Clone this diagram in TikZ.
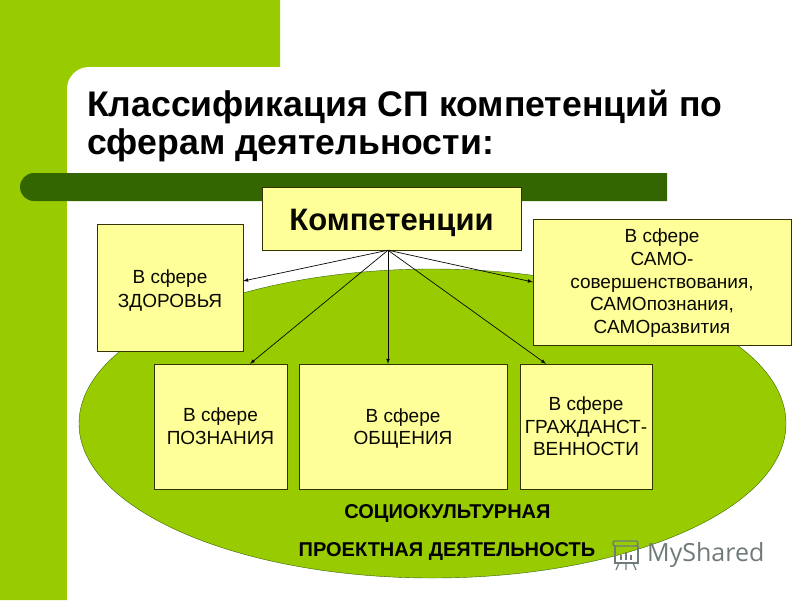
\documentclass[tikz,border=0pt]{standalone}
\usepackage{fontspec}
\setmainfont{Liberation Sans}
\newfontfamily\wmfont{Open Sans}
\definecolor{lgreen}{HTML}{99CC00}
\definecolor{dgreen}{HTML}{336600}
\definecolor{lyellow}{HTML}{FFFF99}
\definecolor{dline}{HTML}{333300}
\definecolor{wmgray}{HTML}{6F7A7A}
\newcommand{\toprule}[1]{\rule{0pt}{#1}}
\begin{document}
\begin{tikzpicture}[x=1pt,y=-1pt]
	\begin{scope}[scale=1]

	\tikzstyle{sferabox}=[rectangle,
	draw=dline,
	fill=lyellow,
	text=black!85!dline,
	inner sep=0pt,
	align=center,
	font=\fontsize{19}{22.6}\selectfont
	]
	\tikzstyle{boldtext}=[inner sep=0pt,
	text=black,
	align=center,
	font=\bfseries\fontsize{20}{24}\selectfont
	]
	\tikzstyle{myarrow}=[-latex,draw=black!85!dline,line width=0.7pt]

	\useasboundingbox (0,0) rectangle (800,600);

	% background
	\fill[white] (0,0) rectangle (800,600);
	\fill[lgreen] (0,0) rectangle (280,67) (0,67) rectangle (89,89) (0,89) rectangle (67,600);
	\fill[white] (67,600) -- (67,89) arc[start angle=180,end angle=270,radius=22] -- (280,67) -- (800,67) -- (800,600) -- cycle;
	\fill[dgreen] (667,173) -- (34,173) arc[start angle=270,end angle=90,radius=14] -- (667,201) -- cycle;

	% title
	\node[anchor=north west,inner sep=0pt,align=left,font=\bfseries\fontsize{35.6}{38}\selectfont] (title) at (87,90) {Классификация СП компетенций по\\сферам деятельности:};

	\draw[draw=dgreen,fill=lgreen] (432.5,423.5) ellipse [x radius=353.5,y radius=154.5];

	\coordinate (pkomp) at (391.5,218.5);
	\coordinate (pzdor) at (170,287.5);
	\coordinate (psamo) at (662,282);
	\coordinate (ppozn) at (220.5,426.5);
	\coordinate (pobsh) at (403,426.5);
	\coordinate (pgrazh) at (586,426.5);

	\node[sferabox,minimum width=259pt,minimum height=63pt,font=\bfseries\fontsize{31}{36}\selectfont] (komp) at (pkomp) {\toprule{31pt}Компетенции};
	\node[sferabox,minimum width=146pt,minimum height=127pt] (zdor) at (pzdor) {\toprule{20pt}В сфере\\[1.4pt]ЗДОРОВЬЯ};
	\node[sferabox,minimum width=258pt,minimum height=126pt] (samo) at (psamo) {\toprule{16pt}В сфере\\САМО-\\совершенствования,\\САМОпознания,\\САМОразвития};
	\node[sferabox,minimum width=133pt,minimum height=125pt] (pozn) at (ppozn) {В сфере\\ПОЗНАНИЯ};
	\node[sferabox,minimum width=208pt,minimum height=125pt] (obsh) at (pobsh) {\toprule{18pt}В сфере\\ОБЩЕНИЯ};
	\node[sferabox,minimum width=132pt,minimum height=125pt] (grazh) at (pgrazh) {В сфере\\ГРАЖДАНСТ-\\ВЕННОСТИ};

	\coordinate (hub) at ([xshift=-3.5pt]komp.south);

	\draw[myarrow] (hub) -- ([yshift=6.5pt]zdor.east);
	\draw[myarrow] (hub) -- (samo.west);
	\draw[myarrow] (hub) -- ([xshift=29.5pt]pozn.north);
	\draw[myarrow] (hub) -- ([xshift=-15pt]obsh.north);
	\draw[myarrow] (hub) -- ([xshift=-40pt]grazh.north);

	\node[boldtext] (socio) at (447.5,514) {СОЦИОКУЛЬТУРНАЯ};
	\node[boldtext] (proekt) at (447,551) {ПРОЕКТНАЯ ДЕЯТЕЛЬНОСТЬ};

	% watermark
	\draw[wmgray,line width=1.4pt,rounded corners=2pt] (613,541) -- (638,541) -- (638,546) -- (613,546) -- cycle;
	\draw[wmgray,line width=1.4pt] (615,546) -- (615,563) -- (638,563) -- (638,546);
	\draw[wmgray,line width=1.6pt] (621,560) -- (621,555) (626,560) -- (626,552) (631,560) -- (631,555);
	\draw[wmgray,line width=1.2pt] (619,563) -- (616,570) (626,563) -- (626,570) (633,563) -- (636,570);
	\node[anchor=west,inner sep=0pt,text=wmgray,font=\wmfont\fontsize{25}{30}\selectfont] (wmark) at (647,555) {MyShared};

	\end{scope}
\end{tikzpicture}
\end{document}
